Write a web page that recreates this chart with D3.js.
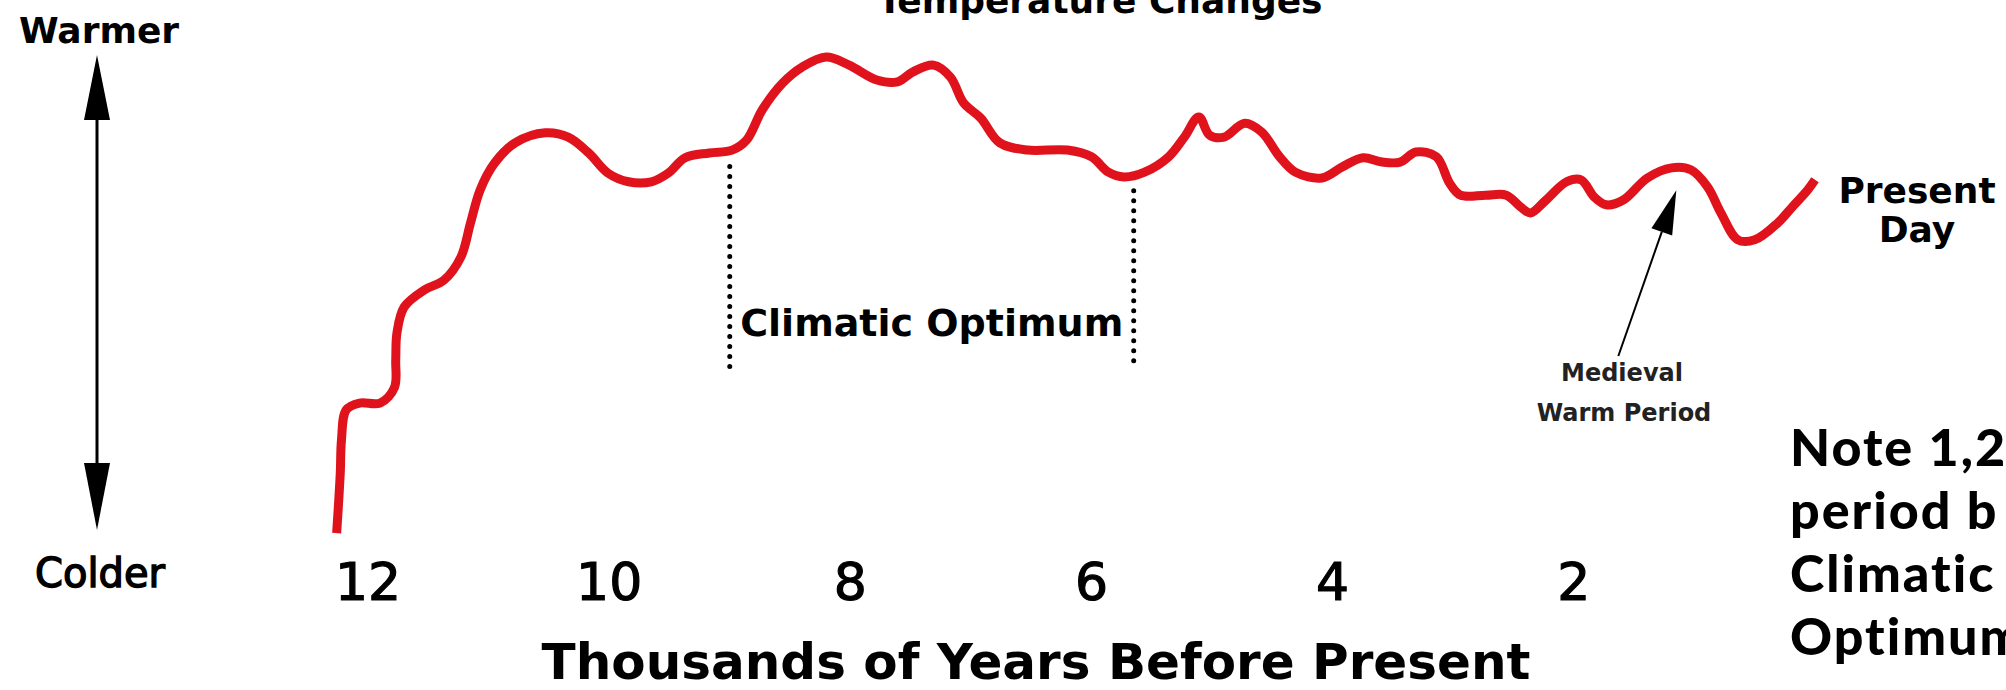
<!DOCTYPE html>
<html>
<head>
<meta charset="utf-8">
<script src="https://cdn.jsdelivr.net/npm/d3@7"></script>
<style>
body { margin: 0; background: #fff; }
svg { display: block; }
</style>
</head>
<body>
<svg id="chart" width="2006" height="690"></svg>
<script>
// thousands of years before present
var years = [12.26, 12.23, 12.22, 12.18, 12.07, 11.90, 11.78, 11.77, 11.76, 11.70,
  11.53, 11.37, 11.23, 11.15, 11.07, 10.95, 10.78, 10.53, 10.34, 10.17,
  10.01, 9.84, 9.65, 9.51, 9.37, 9.17, 8.98, 8.86, 8.73, 8.56,
  8.40, 8.20, 8.01, 7.78, 7.61, 7.48, 7.31, 7.17, 7.06, 6.92,
  6.76, 6.53, 6.20, 6.00, 5.86, 5.73, 5.56, 5.36, 5.23, 5.11,
  5.02, 4.90, 4.73, 4.59, 4.44, 4.31, 4.09, 3.92, 3.75, 3.59,
  3.44, 3.31, 3.14, 3.03, 2.94, 2.73, 2.56, 2.44, 2.36, 2.23,
  2.06, 1.94, 1.83, 1.73, 1.59, 1.39, 1.19, 1.03, 0.89, 0.78,
  0.64, 0.50, 0.31, 0.19, 0.06, 0.0];
// relative warmth, 0 = coldest point drawn, 100 = warmest
var temps = [0.6, 13.1, 20.0, 26.3, 27.7, 27.7, 31.0, 36.7, 42.3, 47.7,
  51.3, 53.3, 58.1, 65.2, 72.1, 77.7, 81.9, 84.0, 83.1, 79.8,
  75.6, 73.8, 73.8, 75.6, 78.8, 79.8, 80.4, 82.5, 88.8, 94.4,
  97.7, 99.8, 98.1, 95.0, 94.6, 96.7, 98.1, 95.6, 90.2, 87.1,
  81.9, 80.4, 80.4, 79.0, 75.8, 74.8, 75.8, 79.0, 83.1, 87.3,
  83.5, 83.1, 86.0, 84.2, 79.0, 75.8, 74.6, 76.9, 78.8, 77.9,
  77.9, 80.0, 79.0, 73.5, 71.0, 71.0, 71.0, 68.5, 67.3, 70.0,
  73.8, 74.2, 70.6, 69.0, 70.0, 74.6, 76.7, 76.3, 72.7, 67.3,
  61.7, 61.7, 65.2, 68.5, 72.1, 74.2];
var tickYears = [12, 10, 8, 6, 4, 2];
var optimumYears = [9.0, 5.65];
var medievalYear = 1.15;
var noteLines = ["Note 1,2", "period b", "Climatic", "Optimum"];

var svg = d3.select("#chart");
var font = "'DejaVu Sans', sans-serif";

var x = d3.scaleLinear().domain([12, 0]).range([368, 1815]);
var y = d3.scaleLinear().domain([0, 100]).range([536, 56]);

var points = years.map(function(d, i) { return [d, temps[i]]; });

// value of the traced curve at a given year
function tempAt(yr) {
  for (var i = 1; i < years.length; i++) {
    if (years[i] <= yr) {
      var f = (years[i-1] - yr) / (years[i-1] - years[i]);
      return temps[i-1] + f * (temps[i] - temps[i-1]);
    }
  }
  return temps[temps.length - 1];
}

//TITLE (cut by the top edge)
svg.append("text")
  .attr("x", 1100).attr("y", 13)
  .attr("text-anchor", "middle")
  .style("font-family", font).style("font-weight", "bold").style("font-size", "36px")
  .text("Temperature Changes");

//WARMER / COLDER ARROW
var ax = 97;
svg.append("line")
  .attr("x1", ax).attr("y1", 110).attr("x2", ax).attr("y2", 475)
  .attr("stroke", "black").attr("stroke-width", 3);
svg.append("path")
  .attr("d", "M" + ax + ",55 L" + (ax + 13) + ",120 L" + (ax - 13) + ",120 Z")
  .attr("fill", "black");
svg.append("path")
  .attr("d", "M" + ax + ",530 L" + (ax + 13) + ",463 L" + (ax - 13) + ",463 Z")
  .attr("fill", "black");

svg.append("text")
  .attr("x", 99).attr("y", 43).attr("text-anchor", "middle")
  .style("font-family", font).style("font-weight", "bold").style("font-size", "36px")
  .text("Warmer");
svg.append("text")
  .attr("x", 100).attr("y", 587).attr("text-anchor", "middle")
  .style("font-family", font).style("font-size", "40px")
  .attr("stroke", "black").attr("stroke-width", 1.4)
  .text("Colder");

//X TICK LABELS
svg.selectAll(".tick").data(tickYears).enter()
  .append("text")
  .attr("class", "tick")
  .attr("x", function(d) { return x(d); })
  .attr("y", 600)
  .attr("text-anchor", "middle")
  .style("font-family", font).style("font-size", "52px")
  .attr("stroke", "black").attr("stroke-width", 1.2)
  .text(function(d) { return d; });

svg.append("text")
  .attr("x", 1036).attr("y", 679).attr("text-anchor", "middle")
  .style("font-family", font).style("font-weight", "bold").style("font-size", "50px")
  .text("Thousands of Years Before Present");

//CLIMATIC OPTIMUM dotted lines
svg.selectAll(".optimum").data(optimumYears).enter()
  .append("line")
  .attr("class", "optimum")
  .attr("x1", function(d) { return x(d); })
  .attr("y1", function(d) { return y(tempAt(d)) + 16; })
  .attr("x2", function(d) { return x(d); })
  .attr("y2", 367)
  .attr("stroke", "black")
  .attr("stroke-width", 5)
  .attr("stroke-linecap", "round")
  .attr("stroke-dasharray", "0,10");

svg.append("text")
  .attr("x", (x(optimumYears[0]) + x(optimumYears[1])) / 2)
  .attr("y", 336)
  .attr("text-anchor", "middle")
  .style("font-family", font).style("font-weight", "bold").style("font-size", "38px")
  .text("Climatic Optimum");

//CURVE
var line = d3.line()
  .x(function(d) { return x(d[0]); })
  .y(function(d) { return y(d[1]); })
  .curve(d3.curveCatmullRom.alpha(0.5));

svg.append("path")
  .datum(points)
  .attr("d", line)
  .attr("fill", "none")
  .attr("stroke", "#e0131d")
  .attr("stroke-width", 9)
  .attr("stroke-linecap", "butt")
  .attr("stroke-linejoin", "round");

//PRESENT DAY
var endX = x(years[years.length - 1]);
svg.append("text")
  .attr("x", endX + 102).attr("y", 203).attr("text-anchor", "middle")
  .style("font-family", font).style("font-weight", "bold").style("font-size", "36px")
  .text("Present");
svg.append("text")
  .attr("x", endX + 102).attr("y", 242).attr("text-anchor", "middle")
  .style("font-family", font).style("font-weight", "bold").style("font-size", "36px")
  .text("Day");

//MEDIEVAL WARM PERIOD arrow
var tipX = x(medievalYear), tipY = y(tempAt(medievalYear)) + 22;
var tailX = tipX - 58, tailY = 356;
var len = Math.sqrt((tipX - tailX) * (tipX - tailX) + (tipY - tailY) * (tipY - tailY));
var ux = (tipX - tailX) / len, uy = (tipY - tailY) / len;
var bx = tipX - 44 * ux, by = tipY - 44 * uy;
svg.append("line")
  .attr("x1", tailX).attr("y1", tailY).attr("x2", bx).attr("y2", by)
  .attr("stroke", "black").attr("stroke-width", 2);
svg.append("path")
  .attr("d", "M" + tipX + "," + tipY +
    " L" + (bx - 11 * uy) + "," + (by + 11 * ux) +
    " L" + (bx + 11 * uy) + "," + (by - 11 * ux) + " Z")
  .attr("fill", "black");

svg.append("text")
  .attr("x", 1622).attr("y", 381).attr("text-anchor", "middle")
  .style("font-family", font).style("font-weight", "bold").style("font-size", "24px")
  .attr("fill", "#222")
  .text("Medieval");
svg.append("text")
  .attr("x", 1624).attr("y", 421).attr("text-anchor", "middle")
  .style("font-family", font).style("font-weight", "bold").style("font-size", "24px")
  .attr("fill", "#222")
  .text("Warm Period");

//NOTE (runs off the right edge)
svg.selectAll(".note").data(noteLines).enter()
  .append("text")
  .attr("class", "note")
  .attr("x", 1790)
  .attr("y", function(d, i) { return 466 + i * 63; })
  .style("font-family", "Lato, sans-serif").style("font-weight", "900").style("font-size", "52px")
  .style("letter-spacing", "2px")
  .text(function(d) { return d; });
</script>
</body>
</html>
